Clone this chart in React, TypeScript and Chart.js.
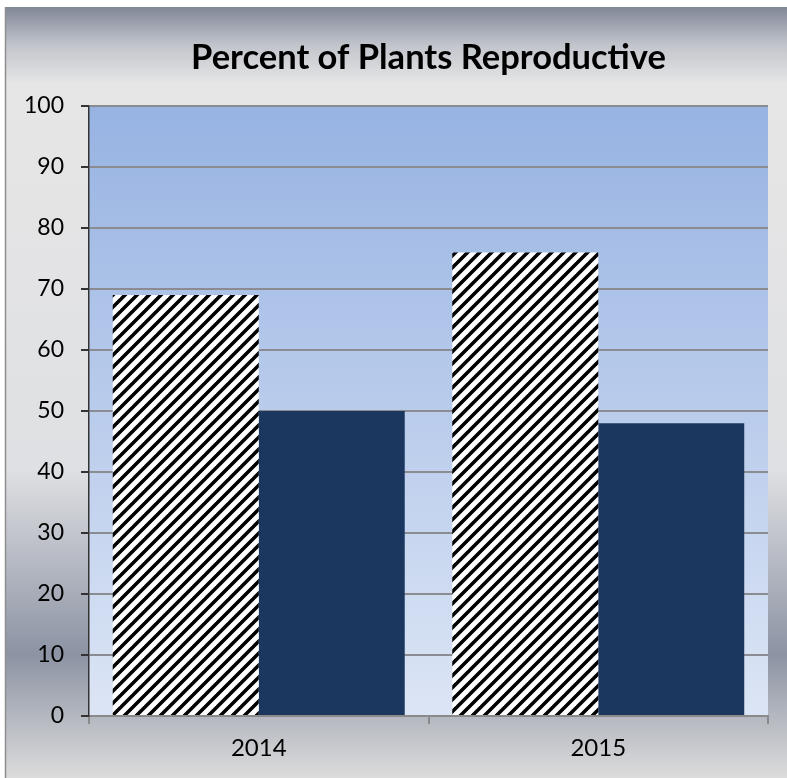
import React, { useEffect, useRef } from "react";
import { Chart, registerables } from "chart.js";

Chart.register(...registerables);

const categories = ["2014", "2015"];
const hatchedValues = [69, 76];
const solidValues = [50, 48];
const titleText = "Percent of Plants Reproductive";
const yMin = 0;
const yMax = 100;
const yStep = 10;

function makeHatch(): CanvasPattern | string {
  const s = 12;
  const tile = document.createElement("canvas");
  tile.width = s;
  tile.height = s;
  const t = tile.getContext("2d");
  if (!t) return "#ffffff";
  t.fillStyle = "#ffffff";
  t.fillRect(0, 0, s, s);
  t.strokeStyle = "#000000";
  t.lineWidth = 3.5;
  // lines x + y = c  ("/" direction)
  for (const c of [0, s, 2 * s]) {
    t.beginPath();
    t.moveTo(c + 2, -2);
    t.lineTo(c - s - 2, s + 2);
    t.stroke();
  }
  const p = t.createPattern(tile, "repeat");
  return p || "#ffffff";
}

const bgPlugin = {
  id: "bgPlugin",
  beforeDraw(chart: any) {
    const { ctx, chartArea: a, width, height } = chart;
    ctx.save();
    const g = ctx.createLinearGradient(0, 7, 0, height);
    g.addColorStop(0.0, "#808796");
    g.addColorStop(0.05, "#c2c5cc");
    g.addColorStop(0.1, "#e6e6e6");
    g.addColorStop(0.6, "#dfe0e3");
    g.addColorStop(0.84, "#8c93a3");
    g.addColorStop(1.0, "#dcdcdc");
    ctx.fillStyle = g;
    ctx.fillRect(5, 7, width - 5, height - 7);
    ctx.strokeStyle = "#8e8e8e";
    ctx.lineWidth = 1.5;
    ctx.beginPath();
    ctx.moveTo(5.5, 7);
    ctx.lineTo(5.5, height);
    ctx.stroke();
    const pg = ctx.createLinearGradient(0, a.top, 0, a.bottom);
    pg.addColorStop(0, "#97b3e2");
    pg.addColorStop(1, "#dce5f5");
    ctx.fillStyle = pg;
    ctx.fillRect(a.left, a.top, a.right - a.left, a.bottom - a.top);
    ctx.restore();
  },
};

export default function App() {
  const ref = useRef<HTMLCanvasElement | null>(null);

  useEffect(() => {
    if (!ref.current) return;
    const hatch = makeHatch();
    const chart = new Chart(ref.current, {
      type: "bar",
      data: {
        labels: categories,
        datasets: [
          {
            label: "Hatched",
            data: hatchedValues,
            backgroundColor: hatch as any,
            borderWidth: 0,
            categoryPercentage: 0.86,
            barPercentage: 1.0,
          },
          {
            label: "Solid",
            data: solidValues,
            backgroundColor: "#1b375f",
            borderWidth: 0,
            categoryPercentage: 0.86,
            barPercentage: 1.0,
          },
        ],
      },
      options: {
        animation: false,
        responsive: true,
        maintainAspectRatio: false,
        layout: { padding: { left: 0, right: 19, top: 0, bottom: 0 } },
        plugins: {
          legend: { display: false },
          tooltip: { enabled: false },
          title: {
            display: true,
            text: titleText,
            fullSize: false,
            color: "#000000",
            font: { family: "Lato", size: 34.5, weight: "bold", lineHeight: 1.2 },
            padding: { top: 37, bottom: 27.6 },
          },
        },
        scales: {
          x: {
            afterFit: (s: any) => {
              s.height = 62;
            },
            grid: {
              drawOnChartArea: false,
              drawTicks: true,
              tickLength: 8,
              tickColor: "#8a8a8a",
              lineWidth: 2,
              offset: true,
            },
            border: { display: true, color: "#8a8a8a", width: 2 },
            ticks: {
              color: "#000000",
              padding: 10,
              font: { family: "Lato", size: 24 },
            },
          },
          y: {
            min: yMin,
            max: yMax,
            afterFit: (s: any) => {
              s.width = 89;
            },
            ticks: {
              stepSize: yStep,
              color: "#000000",
              padding: 17,
              font: { family: "Lato", size: 23 },
            },
            grid: {
              color: "#8a8c92",
              lineWidth: 2,
              tickLength: 8,
              tickColor: "#333333",
            },
            border: { display: true, color: "#333333", width: 1.5 },
          },
        },
      },
      plugins: [bgPlugin],
    });
    return () => chart.destroy();
  }, []);

  return (
    <div style={{ position: "absolute", left: 0, top: 0, width: 787, height: 778 }}>
      <canvas ref={ref} />
    </div>
  );
}
